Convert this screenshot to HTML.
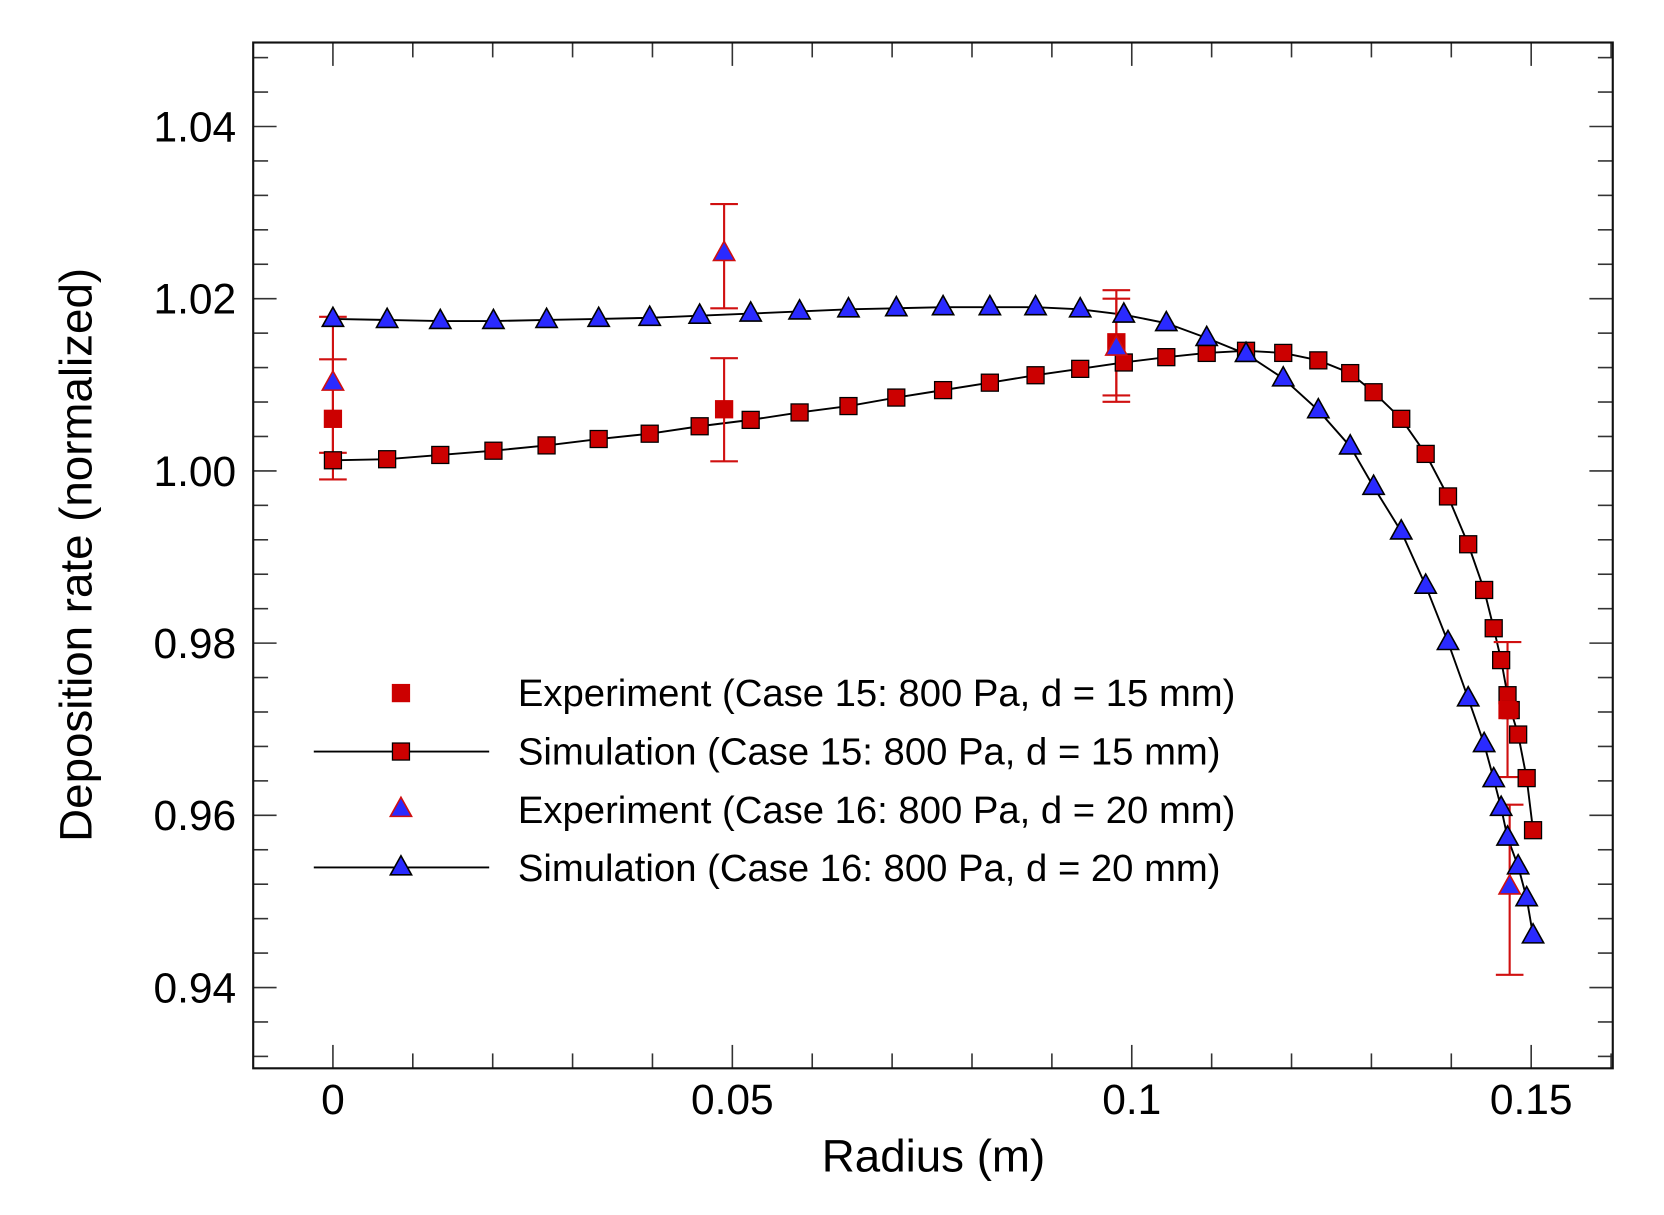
<!DOCTYPE html>
<html><head><meta charset="utf-8"><style>html,body{margin:0;padding:0;background:#fff}svg{display:block}</style></head>
<body>
<svg id="s" width="1664" height="1215" viewBox="0 0 1565 1143" xmlns="http://www.w3.org/2000/svg" font-family="Liberation Sans, Arial, sans-serif">
<rect width="1565" height="1143" fill="#fff"/>
<g id="g"></g>
</svg>
<script>
var g=document.getElementById('g'),h='';
var L=238,R=1517,T=40,B=1005;
function X(v){return 313+v*7515;}
function Y(v){return 443-(v-1)*8100;}
for(var i=-1;i<=16;i++){var x=X(i*0.01);if(x<L+1||x>R-1)continue;var M=(i%5==0),l=M?22:14;
h+='<line x1="'+x+'" y1="'+B+'" x2="'+x+'" y2="'+(B-l)+'" stroke="#333" stroke-width="1.5"/>';
h+='<line x1="'+x+'" y1="'+T+'" x2="'+x+'" y2="'+(T+l)+'" stroke="#333" stroke-width="1.5"/>';
if(M)h+='<text x="'+x+'" y="1048" font-size="40" text-anchor="middle">'+(i==0?'0':(i/100).toString())+'</text>';}
for(var j=0;j<=40;j++){var v=0.92+j*0.004,y=Y(v);if(y<T+1||y>B-1)continue;var M=(j%5==0),l=M?22:14;
h+='<line x1="'+L+'" y1="'+y+'" x2="'+(L+l)+'" y2="'+y+'" stroke="#333" stroke-width="1.5"/>';
h+='<line x1="'+R+'" y1="'+y+'" x2="'+(R-l)+'" y2="'+y+'" stroke="#333" stroke-width="1.5"/>';
if(M)h+='<text x="222" y="'+(y+14)+'" font-size="40" text-anchor="end">'+v.toFixed(2)+'</text>';}
h+='<rect x="'+L+'" y="'+T+'" width="'+(R-L)+'" height="'+(B-T)+'" fill="none" stroke="#111" stroke-width="2"/>';
h+='<text x="878" y="1102" font-size="43" text-anchor="middle">Radius (m)</text>';
h+='<text transform="translate(86,522) rotate(-90)" font-size="43" text-anchor="middle">Deposition rate (normalized)</text>';
var sq=[[313,433],[364,432],[414,428],[464,424],[514,419],[563,413],[611,408],[658,401],[706,395],[752,388],[798,382],[843,374],[887,367],[931,360],[974,353],[1016,347],[1057,341],[1097,336],[1135,332],[1172,330],[1207,332],[1240,339],[1270,351],[1292,369],[1318,394],[1341,427],[1362,467],[1381,512],[1396,555],[1405,591],[1412,621],[1418,654],[1421,668],[1428,691],[1436,732],[1442,781]];
var tr=[[313,300],[364,301],[414,302],[464,302],[514,301],[563,300],[611,299],[658,297],[706,295],[752,293],[798,291],[843,290],[887,289],[931,289],[974,289],[1016,291],[1057,296],[1097,304],[1135,318],[1172,333],[1207,356],[1240,386],[1270,420],[1292,458],[1318,500],[1341,551],[1362,604],[1381,657],[1396,700],[1405,733],[1412,760],[1418,788],[1428,815],[1436,845],[1442,880]];
function pl(a){return '<polyline points="'+a.map(function(p){return p.join(',')}).join(' ')+'" fill="none" stroke="#000" stroke-width="1.8"/>';}
h+=pl(sq)+pl(tr);
function eb(x,a,b){return '<g stroke="#d01010" stroke-width="2"><line x1="'+x+'" y1="'+a+'" x2="'+x+'" y2="'+b+'"/><line x1="'+(x-13)+'" y1="'+a+'" x2="'+(x+13)+'" y2="'+a+'"/><line x1="'+(x-13)+'" y1="'+b+'" x2="'+(x+13)+'" y2="'+b+'"/></g>';}
h+=eb(313,298,426)+eb(313,338,451)+eb(681,192,290)+eb(681,337,434)+eb(1050,273,372)+eb(1050,281,378)+eb(1418,604,731)+eb(1420,757,917);
function S(x,y,st){return '<rect x="'+(x-8)+'" y="'+(y-8)+'" width="16" height="16" fill="#cc0000" stroke="'+st+'" stroke-width="1.2"/>';}
function Tr(x,y,st){return '<polygon points="'+x+','+(y-11)+' '+(x-10)+','+(y+7)+' '+(x+10)+','+(y+7)+'" fill="#2a2aff" stroke="'+st+'" stroke-width="1.5"/>';}
sq.forEach(function(p){h+=S(p[0],p[1],'#000')});
tr.forEach(function(p){h+=Tr(p[0],p[1],'#000')});
h+=S(313,394,'#cc0000')+S(681,385,'#cc0000')+S(1050,322,'#cc0000')+S(1418,668,'#cc0000');
h+=Tr(313,360,'#d01010')+Tr(681,238,'#d01010')+Tr(1050,327,'#d01010')+Tr(1420,834,'#d01010');
h+=S(377,652,'#cc0000');
h+='<line x1="295" y1="707" x2="460" y2="707" stroke="#000" stroke-width="1.8"/>'+S(377,707,'#000');
h+=Tr(377,761,'#d01010');
h+='<line x1="295" y1="816" x2="460" y2="816" stroke="#000" stroke-width="1.8"/>'+Tr(377,816,'#000');
var lt=['Experiment (Case 15: 800 Pa, d = 15 mm)','Simulation (Case 15: 800 Pa, d = 15 mm)','Experiment (Case 16: 800 Pa, d = 20 mm)','Simulation (Case 16: 800 Pa, d = 20 mm)'];
lt.forEach(function(t,k){h+='<text x="487" y="'+(664+k*55)+'" font-size="36">'+t+'</text>';});
g.innerHTML=h;
</script>
</body></html>
